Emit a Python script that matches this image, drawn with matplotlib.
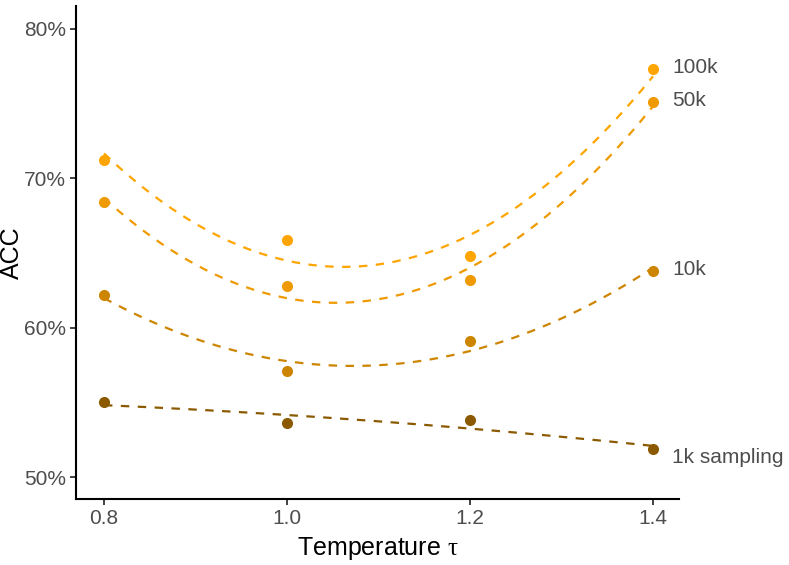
import numpy as np
import matplotlib.pyplot as plt
from matplotlib.ticker import FuncFormatter

plt.rcParams['font.family'] = ['Liberation Sans', 'DejaVu Sans']
plt.rcParams['mathtext.fontset'] = 'custom'
plt.rcParams['mathtext.rm'] = 'Liberation Serif'

temps = [0.8, 1.0, 1.2, 1.4]
acc_100k = [71.2, 65.9, 64.8, 77.3]
acc_50k = [68.4, 62.8, 63.2, 75.1]
acc_10k = [62.2, 57.1, 59.1, 63.8]
acc_1k = [55.0, 53.6, 53.8, 51.9]

series_names = ['100k', '50k', '10k', '1k sampling']
series_vals = [acc_100k, acc_50k, acc_10k, acc_1k]
colors = ['#FFA500', '#EE9A00', '#CD8500', '#8B5A00']
label_dy = [1, 1, 1, -6]

fig = plt.figure(figsize=(7.89, 5.65), dpi=100)
ax = fig.add_axes([0.0963, 0.1168, 0.7643, 0.8726])

xs = np.linspace(temps[0], temps[-1], 200)
for name, vals, c, dy in zip(series_names, series_vals, colors, label_dy):
    # quadratic smoother through the four points
    coef = np.polyfit(temps, vals, 2)
    ax.plot(xs, np.polyval(coef, xs), color=c, lw=1.6, dashes=(3.8, 3.8))
    ax.plot(temps, vals, 'o', color=c, ms=8, mec='none')
    ax.annotate(name, (temps[-1], vals[-1]), xytext=(14, dy), textcoords='offset points',
                va='center', ha='left', fontsize=15, color='#4D4D4D', annotation_clip=False)

ax.set_xlim(0.7694, 1.4284)
ax.set_ylim(48.53, 81.54)
ax.set_xticks([0.8, 1.0, 1.2, 1.4])
ax.set_yticks([50, 60, 70, 80])
ax.xaxis.set_major_formatter(FuncFormatter(lambda v, p: f'{v:.1f}'))
ax.yaxis.set_major_formatter(FuncFormatter(lambda v, p: f'{v:.0f}%'))
ax.tick_params(labelsize=15, labelcolor='#4D4D4D', color='#333333', length=4, width=1.3, pad=3)

for s in ['top', 'right']:
    ax.spines[s].set_visible(False)
for s in ['left', 'bottom']:
    ax.spines[s].set_linewidth(1.5)

ax.set_xlabel('Temperature $\\mathrm{τ}$', fontsize=18)
ax.set_ylabel('ACC', fontsize=18)
ax.yaxis.set_label_coords(-0.086, 0.5)
ax.xaxis.set_label_coords(0.5, -0.072)

fig.savefig('out.png', dpi=100)
